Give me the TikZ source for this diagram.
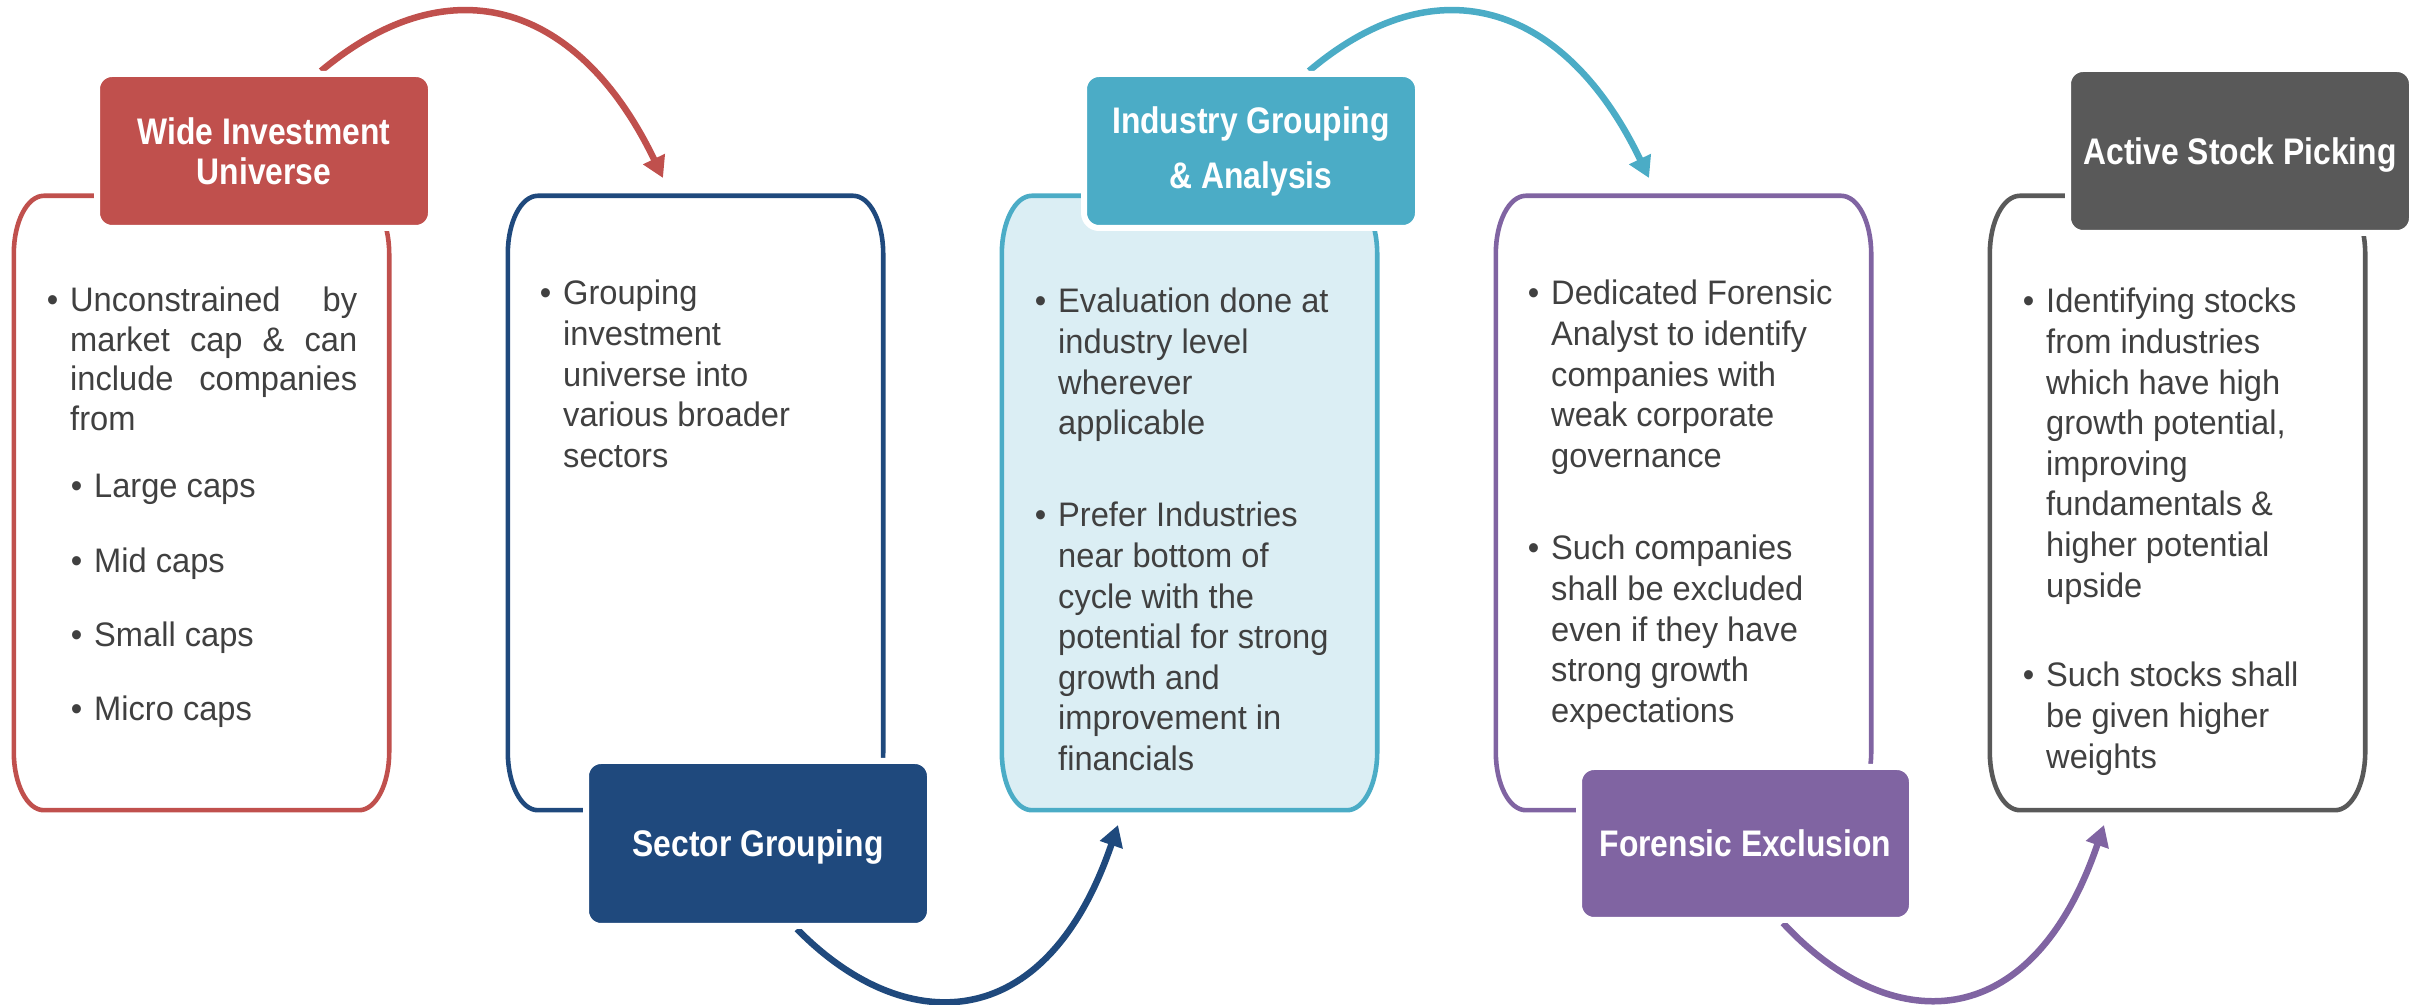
\documentclass[tikz,border=0pt]{standalone}
\usepackage{fontspec}
\setmainfont{Liberation Sans}[FakeStretch=0.96]
\newfontfamily\headfont{Liberation Sans}[FakeStretch=0.86]
\usetikzlibrary{calc,arrows.meta}
\pgfdeclarelayer{back}
\pgfsetlayers{back,main}

\definecolor{cred}{HTML}{C0504D}
\definecolor{cnavy}{HTML}{1F497D}
\definecolor{cteal}{HTML}{4BACC6}
\definecolor{cpurple}{HTML}{8064A2}
\definecolor{cgray}{HTML}{595959}
\definecolor{cpale}{HTML}{DBEEF4}
\definecolor{ctext}{HTML}{404040}

% bullet hanging to the left of a line
\newcommand\bul{\leavevmode\llap{\textbullet\hskip 12pt}}

% tall frame with elliptical corners around a frame node
\newcommand\softframe[2]{%
  \path[#2]
    ($(#1.north west)+(30,0)$) -- ($(#1.north east)+(-30,0)$)
    .. controls ($(#1.north east)+(-13.4,0)$) and ($(#1.north east)+(0,-26)$) .. ($(#1.north east)+(0,-58)$)
    -- ($(#1.south east)+(0,58)$)
    .. controls ($(#1.south east)+(0,26)$) and ($(#1.south east)+(-13.4,0)$) .. ($(#1.south east)+(-30,0)$)
    -- ($(#1.south west)+(30,0)$)
    .. controls ($(#1.south west)+(13.4,0)$) and ($(#1.south west)+(0,26)$) .. ($(#1.south west)+(0,58)$)
    -- ($(#1.north west)+(0,-58)$)
    .. controls ($(#1.north west)+(0,-26)$) and ($(#1.north west)+(13.4,0)$) .. cycle;
}

\begin{document}
\begin{tikzpicture}[x=1pt,y=1pt,
  frame/.style={minimum width=375pt, minimum height=614pt, inner sep=0pt, draw=none},
  outline/.style={line width=4.6pt},
  head/.style={draw=white, line width=6pt, rounded corners=15pt, text=white,
    align=center, inner sep=0pt, font=\headfont\bfseries\fontsize{37}{40}\selectfont},
  oneline/.style={text depth=0pt},
  flow/.style={line width=6.5pt, -{Triangle[length=21pt,width=23pt]}},
  body/.style={anchor=base west, inner sep=0pt, text=ctext,
    font=\fontsize{34}{40.6}\selectfont},
]
\useasboundingbox (0,0) rectangle (2420,1004);

% stage frames
\node[frame] (b1) at (201.5,501) {};
\node[frame] (b2) at (695.5,501) {};
\node[frame] (b3) at (1189.5,501) {};
\node[frame] (b4) at (1683.5,501) {};
\node[frame] (b5) at (2177.5,501) {};

\softframe{b1}{draw=cred, outline}
\softframe{b2}{draw=cnavy, outline}
\softframe{b3}{draw=cteal, fill=cpale, outline}
\softframe{b4}{draw=cpurple, outline}
\softframe{b5}{draw=cgray, outline}

% stage titles
\node[head, fill=cred, minimum width=334pt, minimum height=154pt] (h1) at (264,853) {Wide Investment\\Universe};
\node[head, oneline, fill=cnavy, minimum width=344pt, minimum height=165pt] (h2) at (758,160.5) {Sector Grouping};
\node[head, fill=cteal, minimum width=334pt, minimum height=154pt] (h3) at (1251,853) {Industry Grouping\\[15pt]\& Analysis};
\node[head, oneline, fill=cpurple, minimum width=333pt, minimum height=153pt] (h4) at (1745.5,160.5) {Forensic Exclusion};
\node[head, oneline, fill=cgray, minimum width=344pt, minimum height=164pt] (h5) at (2240,853) {Active Stock Picking};

% arrow targets
\coordinate (e1) at (663,826);
\coordinate (e2) at (1118,179);
\coordinate (e3) at (1649,826);
\coordinate (e4) at (2104,179);

% connecting arrows, kept behind the titles
\begin{pgfonlayer}{back}
\draw[flow, cred] ($(h1.north)+(57,0)$) .. controls (454,1044) and (581,997) .. (e1);
\draw[flow, cnavy] ($(h2.south)+(39,0)$) .. controls (902,-32.5) and (1045,-36) .. (e2);
\draw[flow, cteal] ($(h3.north)+(58,0)$) .. controls (1440,1044) and (1567,997) .. (e3);
\draw[flow, cpurple] ($(h4.south)+(37.5,0)$) .. controls (1888,-32.5) and (2031,-36) .. (e4);
\end{pgfonlayer}

% stage texts
\node[body] (t1) at (70,692) {\parbox[t]{300pt}{\baselineskip=39.5pt
  \bul\makebox[287pt][s]{Unconstrained by}\\
  \makebox[287pt][s]{market cap \& can}\\
  \makebox[287pt][s]{include companies}\\
  from}};
\node[body] (t1s) at (94,506) {\parbox[t]{260pt}{\baselineskip=74.3pt
  \bul Large caps\\\bul Mid caps\\\bul Small caps\\\bul Micro caps}};

\node[body] (t2) at (563,699) {\parbox[t]{300pt}{\bul Grouping\\investment\\universe into\\various broader\\sectors}};

\node[body] (t3a) at (1058,691) {\parbox[t]{300pt}{\bul Evaluation done at\\industry level\\wherever\\applicable}};
\node[body] (t3b) at (1058,477) {\parbox[t]{300pt}{\bul Prefer Industries\\near bottom of\\cycle with the\\potential for strong\\growth and\\improvement in\\financials}};

\node[body] (t4a) at (1551,699) {\parbox[t]{300pt}{\bul Dedicated Forensic\\Analyst to identify\\companies with\\weak corporate\\governance}};
\node[body] (t4b) at (1551,444) {\parbox[t]{300pt}{\bul Such companies\\shall be excluded\\even if they have\\strong growth\\expectations}};

\node[body] (t5a) at (2046,691) {\parbox[t]{300pt}{\bul Identifying stocks\\from industries\\which have high\\growth potential,\\improving\\fundamentals \&\\higher potential\\upside}};
\node[body] (t5b) at (2046,317) {\parbox[t]{300pt}{\bul Such stocks shall\\be given higher\\weights}};
\end{tikzpicture}
\end{document}
